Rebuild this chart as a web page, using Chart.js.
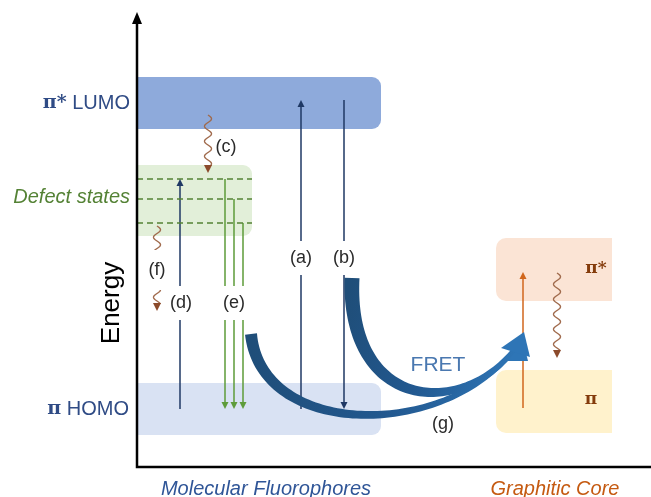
<!DOCTYPE html>
<html>
<head>
<meta charset="utf-8">
<script src="https://cdn.jsdelivr.net/npm/chart.js@4/dist/chart.umd.min.js"></script>
<style>
  html, body { margin: 0; padding: 0; background: #fff; }
  #wrap { width: 651px; height: 497px; position: relative; }
</style>
</head>
<body>
<div id="wrap"><canvas id="c"></canvas></div>
<script>
// energy bands (arb. energy units), [low, high]
const lumoBand = [33.8, 39.0];
const defectBand = [23.1, 30.2];
const homoBand = [3.2, 8.4];
const coreStarBand = [16.6, 22.9];
const corePiBand = [3.4, 9.7];
const defectLevels = [28.8, 26.8, 24.4];

// transition energies
const homoLevel = 5.8;
const lumoLevel = 36.7;
const coreLow = 5.9;
const coreHigh = 19.5;

// positions along the "material" axis
const posA = 16.4, posB = 20.7, posD = 4.3;
const posE = [8.8, 9.7, 10.6];
const posCore = 38.6;

const levelLabels = ["π* LUMO", "Defect states", "π HOMO"];
const coreLabels = ["π*", "π"];
const groupLabels = ["Molecular Fluorophores", "Graphitic Core"];
const stepLabels = ["(a)", "(b)", "(c)", "(d)", "(e)", "(f)", "(g)"];

const navy = "#1f3864";
const green = "#5e9c3a";
const orange = "#d0661c";
const brown = "#a06a4c";
const sans = "'Liberation Sans', Arial, sans-serif";

const seg = (x, y1, y2, color, dash) => ({
  data: [{ x: x, y: y1 }, { x: x, y: y2 }],
  borderColor: color,
  borderWidth: 1.5,
  borderDash: dash || [],
  pointRadius: 0,
  showLine: true,
  fill: false
});

const hseg = (y, x1, x2, color, dash) => ({
  data: [{ x: x1, y: y }, { x: x2, y: y }],
  borderColor: color,
  borderWidth: 1.5,
  borderDash: dash || [],
  pointRadius: 0,
  showLine: true,
  fill: false
});

const datasets = [
  ...defectLevels.map(y => hseg(y, 0, 11.5, "#548235", [6, 4])),
  seg(posA, homoLevel, lumoLevel - 0.6, navy),
  seg(posB, lumoLevel, homoLevel + 0.6, navy),
  seg(posD, homoLevel, defectLevels[0] - 0.6, navy),
  ...posE.map((x, i) => seg(x, defectLevels[i], homoLevel + 0.6, green)),
  seg(posCore, coreLow, coreHigh - 0.6, orange)
];

const drawDiagram = {
  id: "drawDiagram",
  beforeDatasetsDraw(chart) {
    const { ctx, scales: { x, y } } = chart;
    const box = (x1, x2, band, color, radii) => {
      const l = x.getPixelForValue(x1), r = x.getPixelForValue(x2);
      const t = y.getPixelForValue(band[1]), b = y.getPixelForValue(band[0]);
      ctx.save();
      ctx.beginPath();
      ctx.rect(0, 0, x.getPixelForValue(47.5), chart.height);
      ctx.clip();
      ctx.fillStyle = color;
      ctx.beginPath();
      ctx.roundRect(l, t, r - l, b - t, radii);
      ctx.fill();
      ctx.restore();
    };
    box(0, 24.4, lumoBand, "#8eaadb", [0, 9, 9, 0]);
    box(0, 11.5, defectBand, "#e2efd9", [0, 9, 9, 0]);
    box(0, 24.4, homoBand, "#d9e2f3", [0, 9, 9, 0]);
    box(35.9, 50, coreStarBand, "#fbe4d5", 10);
    box(35.9, 50, corePiBand, "#fff2cc", 10);
  },
  afterDatasetsDraw(chart) {
    const { ctx, scales: { x, y } } = chart;
    const X = v => x.getPixelForValue(v);
    const Y = v => y.getPixelForValue(v);

    const head = (xv, tipY, up, color, size) => {
      const s = size || 7;
      const px = X(xv), py = Y(tipY);
      ctx.fillStyle = color;
      ctx.beginPath();
      ctx.moveTo(px, py);
      ctx.lineTo(px - s / 2, py + (up ? s : -s));
      ctx.lineTo(px + s / 2, py + (up ? s : -s));
      ctx.closePath();
      ctx.fill();
    };
    head(posA, lumoLevel, true, navy);
    head(posB, homoLevel, false, navy);
    head(posD, defectLevels[0], true, navy);
    posE.forEach(xv => head(xv, homoLevel, false, green));
    head(posCore, coreHigh, true, orange);

    // wavy non-radiative relaxation arrows
    const wavy = (xv, y1, y2) => {
      const px = X(xv), p1 = Y(y1), p2 = Y(y2) - 7;
      ctx.save();
      ctx.strokeStyle = brown;
      ctx.lineWidth = 1.4;
      ctx.beginPath();
      for (let p = p1; p <= p2; p += 0.5) {
        const xx = px + 3.5 * Math.sin((p - p1) / 15 * 2 * Math.PI);
        if (p === p1) ctx.moveTo(xx, p); else ctx.lineTo(xx, p);
      }
      ctx.stroke();
      ctx.fillStyle = "#8b4a2b";
      ctx.beginPath();
      ctx.moveTo(px, Y(y2));
      ctx.lineTo(px - 4, Y(y2) - 8);
      ctx.lineTo(px + 4, Y(y2) - 8);
      ctx.closePath();
      ctx.fill();
      ctx.restore();
    };
    wavy(7.1, 35.2, 29.4);
    wavy(2.0, 24.1, 15.6);
    wavy(42.0, 19.4, 10.9);

    // step labels with white backing
    ctx.save();
    ctx.font = "18px " + sans;
    ctx.textAlign = "center";
    ctx.textBaseline = "middle";
    const tag = (txt, xv, yv, w, h) => {
      const px = X(xv), py = Y(yv);
      ctx.fillStyle = "#fff";
      ctx.fillRect(px - w / 2, py - h / 2, w, h);
      ctx.fillStyle = "#2a2a2a";
      ctx.fillText(txt, px, py);
    };
    tag(stepLabels[0], posA, 20.9, 34, 34);
    tag(stepLabels[1], posB, 20.9, 34, 34);
    tag(stepLabels[3], 4.4, 16.4, 38, 34);
    tag(stepLabels[4], posE[1], 16.4, 38, 34);
    tag(stepLabels[5], 2.0, 19.7, 26, 40);
    ctx.fillStyle = "#2a2a2a";
    ctx.fillText(stepLabels[2], X(8.9), Y(32.0));
    ctx.restore();

    // curved energy-transfer arrows
    const cubic = (p, t) => {
      const u = 1 - t;
      return [
        u * u * u * p[0][0] + 3 * u * u * t * p[1][0] + 3 * u * t * t * p[2][0] + t * t * t * p[3][0],
        u * u * u * p[0][1] + 3 * u * u * t * p[1][1] + 3 * u * t * t * p[2][1] + t * t * t * p[3][1]
      ];
    };
    const sweep = (ctrl, w0, w1, tip, barbL, barbR) => {
      const p = ctrl.map(c => [X(c[0]), Y(c[1])]);
      const L = [], R = [];
      const n = 80;
      for (let i = 0; i <= n; i++) {
        const t = i / n;
        const a = cubic(p, Math.max(0, t - 0.005)), b = cubic(p, Math.min(1, t + 0.005));
        const c = cubic(p, t);
        let dx = b[0] - a[0], dy = b[1] - a[1];
        const len = Math.hypot(dx, dy) || 1;
        dx /= len; dy /= len;
        const w = (w0 + (w1 - w0) * t) / 2;
        L.push([c[0] - dy * w, c[1] + dx * w]);
        R.push([c[0] + dy * w, c[1] - dx * w]);
      }
      const g = ctx.createLinearGradient(p[0][0], p[0][1], X(tip[0]), Y(tip[1]));
      g.addColorStop(0, "#1f4e79");
      g.addColorStop(0.5, "#22588f");
      g.addColorStop(1, "#2e75b6");
      ctx.fillStyle = g;
      ctx.beginPath();
      L.forEach((q, i) => i ? ctx.lineTo(q[0], q[1]) : ctx.moveTo(q[0], q[1]));
      for (let i = R.length - 1; i >= 0; i--) ctx.lineTo(R[i][0], R[i][1]);
      ctx.closePath();
      ctx.fill();
      ctx.beginPath();
      ctx.moveTo(X(tip[0]), Y(tip[1]));
      ctx.lineTo(X(barbL[0]), Y(barbL[1]));
      ctx.lineTo(X(barbR[0]), Y(barbR[1]));
      ctx.closePath();
      ctx.fillStyle = "#2e75b6";
      ctx.fill();
    };
    // (g): from defect emission to core
    sweep([[11.4, 13.3], [12.4, 3.1], [30.0, 2.7], [37.3, 11.2]], 12, 4,
      [38.5, 13.0], [36.6, 10.6], [39.1, 10.6]);
    // FRET: from LUMO emission to core
    sweep([[21.5, 18.9], [21.0, 6.0], [32.0, 4.6], [37.7, 11.7]], 15, 5,
      [38.7, 13.5], [36.4, 11.9], [39.3, 11.0]);

    ctx.save();
    ctx.textAlign = "center";
    ctx.textBaseline = "middle";
    ctx.font = "21px " + sans;
    ctx.fillStyle = "#4a78b0";
    ctx.fillText("FRET", X(30.1), Y(10.2));
    ctx.font = "18px " + sans;
    ctx.fillStyle = "#2a2a2a";
    ctx.fillText(stepLabels[6], X(30.6), Y(4.3));

    // level names on the left: serif bold π, sans rest
    const piFont = "bold 19px 'DejaVu Serif', serif";
    const restFont = "20px " + sans;
    const mixed = (txt, right, py) => {
      const head = txt.split(" ")[0];
      const tail = txt.slice(head.length);
      ctx.font = restFont;
      const wt = ctx.measureText(tail).width;
      ctx.font = piFont;
      const wh = ctx.measureText(head).width;
      ctx.textAlign = "left";
      ctx.fillText(head, right - wt - wh, py);
      ctx.font = restFont;
      ctx.fillText(tail, right - wt, py);
    };
    ctx.fillStyle = "#2f4b85";
    mixed(levelLabels[0], X(0) - 7, Y(lumoBand[0] + 2.6));
    mixed(levelLabels[2], X(0) - 8, Y(homoBand[0] + 2.6));
    ctx.textAlign = "right";
    ctx.font = "italic 20px " + sans;
    ctx.fillStyle = "#548235";
    ctx.fillText(levelLabels[1], X(0) - 7, Y(27.0));

    // core level names
    ctx.textAlign = "center";
    ctx.font = "bold 17px 'DejaVu Serif', serif";
    ctx.fillStyle = "#843c0c";
    ctx.fillText(coreLabels[0], X(45.9), Y(19.8));
    ctx.fillText(coreLabels[1], X(45.4), Y(6.7));

    // group names under the axis
    ctx.font = "italic 20px " + sans;
    ctx.fillStyle = "#2f5597";
    ctx.fillText(groupLabels[0], X(12.9), chart.height - 8);
    ctx.fillStyle = "#c55a11";
    ctx.fillText(groupLabels[1], X(41.8), chart.height - 8);

    // axis title
    ctx.save();
    ctx.translate(X(0) - 25, Y(16.4));
    ctx.rotate(-Math.PI / 2);
    ctx.font = "26px " + sans;
    ctx.fillStyle = "#000";
    ctx.fillText("Energy", 0, 0);
    ctx.restore();

    // axes
    ctx.strokeStyle = "#000";
    ctx.lineWidth = 2.5;
    ctx.beginPath();
    ctx.moveTo(X(0), Y(0));
    ctx.lineTo(X(0), 22);
    ctx.moveTo(X(0) - 1.25, Y(0));
    ctx.lineTo(chart.width, Y(0));
    ctx.stroke();
    ctx.fillStyle = "#000";
    ctx.beginPath();
    ctx.moveTo(X(0), 12);
    ctx.lineTo(X(0) - 5, 24);
    ctx.lineTo(X(0) + 5, 24);
    ctx.closePath();
    ctx.fill();
    ctx.restore();
  }
};

new Chart(document.getElementById("c"), {
  type: "scatter",
  data: { datasets: datasets },
  options: {
    responsive: true,
    maintainAspectRatio: false,
    animation: false,
    layout: { padding: { left: 137, right: 0, top: 15, bottom: 30 } },
    plugins: { legend: { display: false }, tooltip: { enabled: false } },
    scales: {
      x: { type: "linear", min: 0, max: 51.4, display: false },
      y: { type: "linear", min: 0, max: 45.2, display: false }
    }
  },
  plugins: [drawDiagram]
});
</script>
</body>
</html>
